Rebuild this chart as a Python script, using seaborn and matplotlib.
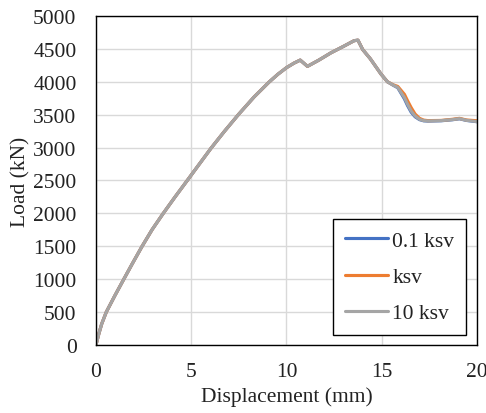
import numpy as np
import pandas as pd
import matplotlib
matplotlib.use("Agg")
import matplotlib.pyplot as plt
import seaborn as sns

# Data
displacement = [0, 0.15, 0.3, 0.54, 1.0, 1.46, 1.9, 2.42, 2.95, 3.53, 4.15, 4.79,
                5.4, 6.05, 6.75, 7.5, 8.3, 9.1, 9.55, 10.0, 10.4, 10.72, 11.1,
                11.7, 12.33, 13.0, 13.55, 13.75, 14.0, 14.4, 14.96, 15.3, 15.6,
                15.84, 16.19, 16.35, 16.54, 16.75, 16.98, 17.2, 17.42, 18.12,
                18.7, 19.08, 19.44, 20.0]
load_10ksv = [0, 170, 320, 500, 755, 1000, 1232, 1500, 1755, 2000, 2250, 2500,
              2740, 2995, 3250, 3510, 3770, 4000, 4115, 4215, 4285, 4330, 4235,
              4330, 4440, 4540, 4625, 4633, 4490, 4350, 4118, 4000, 3950,
              3914, 3760, 3660, 3557, 3480, 3430, 3410, 3405, 3410,
              3425, 3440, 3415, 3395]
load_ksv = [0, 170, 320, 500, 755, 1000, 1232, 1500, 1755, 2000, 2250, 2500,
            2740, 2995, 3250, 3510, 3770, 4000, 4115, 4215, 4285, 4330, 4235,
            4330, 4440, 4540, 4625, 4633, 4490, 4350, 4118, 4000, 3955,
            3930, 3810, 3715, 3610, 3510, 3445, 3418, 3410, 3413,
            3430, 3445, 3420, 3408]
load_01ksv = [0, 170, 320, 500, 755, 1000, 1232, 1500, 1755, 2000, 2250, 2500,
              2740, 2995, 3250, 3510, 3770, 4000, 4115, 4215, 4285, 4330, 4235,
              4330, 4440, 4540, 4625, 4633, 4490, 4350, 4118, 4000, 3948,
              3910, 3740, 3640, 3540, 3468, 3425, 3407, 3403, 3408,
              3423, 3438, 3413, 3393]
series_names = ["0.1 ksv", "ksv", "10 ksv"]
colors = ["#4472C4", "#ED7D31", "#A5A5A5"]
x_ticks = [0, 5, 10, 15, 20]
y_ticks = [0, 500, 1000, 1500, 2000, 2500, 3000, 3500, 4000, 4500, 5000]

frames = []
for name, vals in zip(series_names, [load_01ksv, load_ksv, load_10ksv]):
    frames.append(pd.DataFrame({"Displacement": displacement, "Load": vals,
                                "Series": name}))
df = pd.concat(frames, ignore_index=True)

sns.set_style("white")
plt.rcParams["font.family"] = ["Liberation Serif", "DejaVu Serif"]

fig = plt.figure(figsize=(4.86, 4.14), dpi=100)
ax = fig.add_axes([0.1975, 0.1643, 0.7840, 0.7946])

sns.lineplot(data=df, x="Displacement", y="Load", hue="Series",
             hue_order=series_names, palette=colors, sort=False,
             linewidth=2.25, ax=ax, estimator=None)

ax.set_xlim(0, 20)
ax.set_ylim(0, 5000)
ax.set_xticks(x_ticks)
ax.set_yticks(y_ticks)
ax.grid(True, color="#d9d9d9", linewidth=1.0)
ax.set_axisbelow(True)
for sp in ax.spines.values():
    sp.set_color("black")
    sp.set_linewidth(1.0)
ax.tick_params(axis="both", length=0, labelsize=15.5, colors="#222222")
ax.tick_params(axis="y", pad=14)
ax.tick_params(axis="x", pad=12)
ax.set_xlabel("Displacement (mm)", fontsize=15.5, color="#222222", labelpad=4)
ax.set_ylabel("Load (kN)", fontsize=15.5, color="#222222", labelpad=2)

leg = ax.legend(loc="lower right", bbox_to_anchor=(0.971, 0.030),
                borderaxespad=0,
                fontsize=15.5, frameon=True, fancybox=False, framealpha=1,
                edgecolor="black", handlelength=2.0, handletextpad=0.2,
                labelspacing=0.75, borderpad=0.55)
leg.get_frame().set_linewidth(1.0)
for t in leg.get_texts():
    t.set_color("#222222")

fig.savefig("out.png", dpi=100)
